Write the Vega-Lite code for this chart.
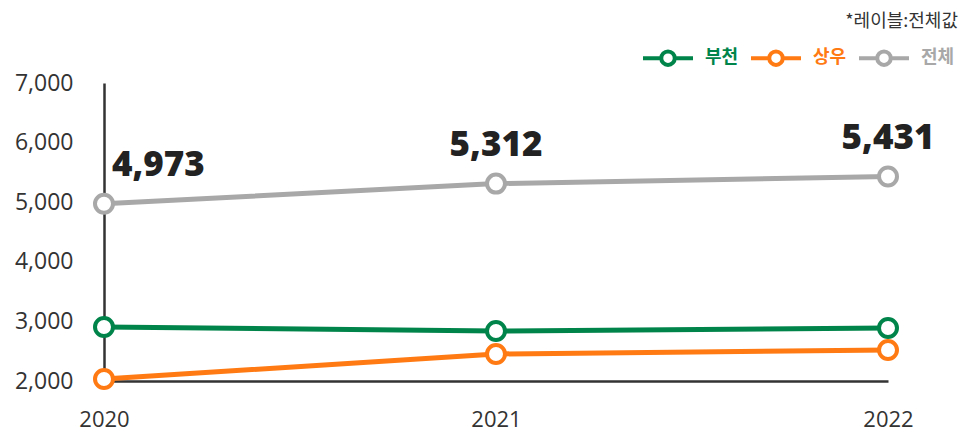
{
  "$schema": "https://vega.github.io/schema/vega-lite/v6.json",
  "width": 784,
  "height": 298,
  "autosize": {"type": "none"},
  "padding": {"left": 104, "top": 83, "right": 75, "bottom": 55},
  "background": "white",
  "config": {"view": {"stroke": null}, "font": "Open Sans"},
  "title": {
    "text": "*레이블:전체값",
    "anchor": "end",
    "frame": "group",
    "dx": 70,
    "offset": 0,
    "fontSize": 18,
    "fontWeight": "normal",
    "color": "#333333",
    "font": "Noto Sans CJK KR"
  },
  "data": {
    "values": [
      {"year": "2020", "series": "부천", "value": 2906},
      {"year": "2021", "series": "부천", "value": 2839},
      {"year": "2022", "series": "부천", "value": 2889},
      {"year": "2020", "series": "상우", "value": 2034},
      {"year": "2021", "series": "상우", "value": 2453},
      {"year": "2022", "series": "상우", "value": 2520},
      {"year": "2020", "series": "전체", "value": 4973},
      {"year": "2021", "series": "전체", "value": 5312},
      {"year": "2022", "series": "전체", "value": 5431}
    ]
  },
  "encoding": {
    "x": {
      "field": "year",
      "type": "ordinal",
      "scale": {"type": "point", "padding": 0},
      "axis": {
        "title": null,
        "labelAngle": 0,
        "domain": true,
        "domainColor": "#333333",
        "domainWidth": 2.5,
        "ticks": false,
        "grid": false,
        "labelFontSize": 22,
        "labelColor": "#333333",
        "labelPadding": 28
      }
    },
    "y": {
      "field": "value",
      "type": "quantitative",
      "scale": {"domain": [2000, 7000], "nice": false, "zero": false},
      "axis": {
        "title": null,
        "values": [2000, 3000, 4000, 5000, 6000, 7000],
        "format": ",.0f",
        "domain": true,
        "domainColor": "#333333",
        "domainWidth": 2.5,
        "ticks": false,
        "grid": false,
        "labelFontSize": 23,
        "labelColor": "#333333",
        "labelPadding": 31
      }
    }
  },
  "layer": [
    {
      "mark": {"type": "line", "strokeWidth": 5},
      "encoding": {
        "color": {
          "field": "series",
          "type": "nominal",
          "scale": {"domain": ["부천", "상우", "전체"], "range": ["#00844A", "#FF7A12", "#A8A8A8"]},
          "legend": {
            "title": null,
            "orient": "none",
            "direction": "horizontal",
            "legendX": 537,
            "legendY": -52,
            "symbolType": "M-1,0L-0.27,0M0.27,0L1,0M0.27,0A0.27,0.27,0,1,1,-0.27,0A0.27,0.27,0,1,1,0.27,0Z",
            "symbolSize": 2500,
            "symbolStrokeWidth": 4,
            "labelFontSize": 18,
            "labelFontWeight": "bold",
            "labelFont": "Noto Sans CJK KR",
            "labelOffset": 10,
            "columnPadding": 4,
            "encode": {
              "symbols": {"update": {"fill": {"value": "white"}, "strokeWidth": {"value": 4}}},
              "labels": {"update": {"fill": {"scale": "color", "field": "value"}}}
            }
          }
        }
      }
    },
    {
      "mark": {"type": "point", "filled": true, "fill": "white", "size": 324, "strokeWidth": 4, "opacity": 1},
      "encoding": {
        "stroke": {
          "field": "series",
          "type": "nominal",
          "scale": {"domain": ["부천", "상우", "전체"], "range": ["#00844A", "#FF7A12", "#A8A8A8"]},
          "legend": null
        }
      }
    },
    {
      "transform": [{"filter": "datum.series == '전체' && datum.year == '2020'"}],
      "mark": {"type": "text", "align": "left", "dx": 8, "dy": -28, "baseline": "alphabetic", "fontSize": 35, "fontWeight": 800, "color": "#222222"},
      "encoding": {"text": {"field": "value", "type": "quantitative", "format": ","}}
    },
    {
      "transform": [{"filter": "datum.series == '전체' && datum.year != '2020'"}],
      "mark": {"type": "text", "align": "center", "dy": -28, "baseline": "alphabetic", "fontSize": 35, "fontWeight": 800, "color": "#222222"},
      "encoding": {"text": {"field": "value", "type": "quantitative", "format": ","}}
    }
  ]
}
